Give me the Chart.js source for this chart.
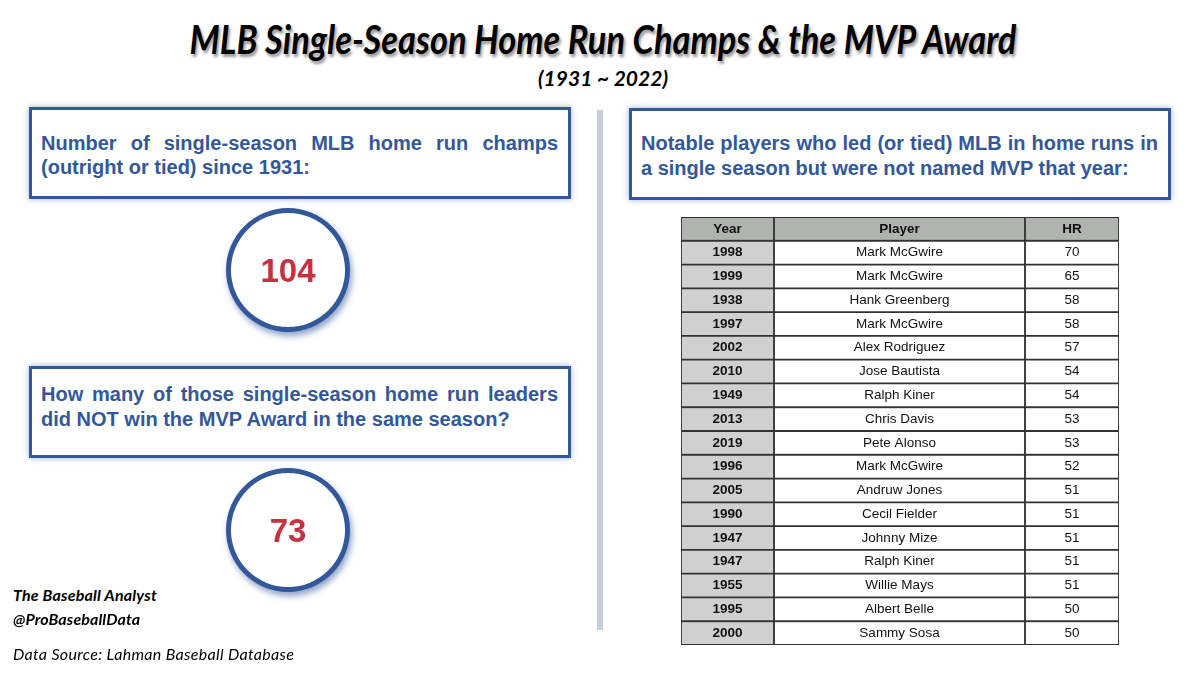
<!DOCTYPE html>
<html>
<head>
<meta charset="utf-8">
<script src="https://cdn.jsdelivr.net/npm/chart.js@4"></script>
<style>
 html, body {margin:0; padding:0; background:#fff;}
 body {position:relative; width:1200px; height:675px; overflow:hidden;}
 .abs   {position:absolute;}
 .hand  {position:absolute; font-family:"Lato"; font-style:italic; color:#000; white-space:nowrap;}
 .box   {position:absolute; box-sizing:border-box; border:3px solid #33589a; background:#fff;
         box-shadow:0 0 6px rgba(51,88,154,.45);}
 .line  {position:absolute; font:bold 20px "Liberation Sans"; color:#33589a; line-height:25px; white-space:nowrap;}
 .just  {white-space:normal; text-align:justify; text-align-last:justify;}
 canvas {position:absolute;}
 #ring1, #ring2 {filter:drop-shadow(2px 4px 3px rgba(51,88,154,.55));}
</style>
</head>
<body>

<div class="hand" id="title" style="left:0;width:1206px;text-align:center;top:15px;font-size:40px;font-weight:700;text-shadow:2px 3px 3px rgba(0,0,0,.4);transform:scaleX(.86)">MLB Single-Season Home Run Champs &amp; the MVP Award</div>
<div class="hand" style="left:0;width:1206px;text-align:center;top:65px;font-size:21px;font-weight:700;letter-spacing:0">(1931 ~ 2022)</div>

<div class="box" style="left:29px;top:107px;width:542px;height:92px"></div>
<div class="line just" style="left:41px;top:131px;width:517px">Number of single-season MLB home run champs</div>
<div class="line" style="left:41px;top:155px">(outright or tied) since 1931:</div>

<div class="box" style="left:29px;top:366px;width:542px;height:92px"></div>
<div class="line just" style="left:41px;top:382px;width:517px">How many of those single-season home run leaders</div>
<div class="line" style="left:41px;top:407px">did NOT win the MVP Award in the same season?</div>

<div class="abs" style="left:597px;top:110px;width:6px;height:520px;background:#c5ced9"></div>

<div class="box" style="left:629px;top:108px;width:542px;height:92px"></div>
<div class="line just" style="left:641px;top:131px;width:517px">Notable players who led (or tied) MLB in home runs in</div>
<div class="line" style="left:641px;top:156px">a single season but were not named MVP that year:</div>

<canvas id="ring1" style="left:218px;top:200px" width="140" height="140"></canvas>
<canvas id="ring2" style="left:218px;top:460px" width="140" height="140"></canvas>
<canvas id="table" style="left:679px;top:215px" width="442" height="432"></canvas>

<div class="hand" style="left:13px;top:585px;font-size:16px;font-weight:700;letter-spacing:.2px">The Baseball Analyst</div>
<div class="hand" style="left:13px;top:609px;font-size:16px;font-weight:700;letter-spacing:.1px">@ProBaseballData</div>
<div class="hand" style="left:13px;top:644px;font-size:16px;letter-spacing:.32px">Data Source: Lahman Baseball Database</div>

<script>
// DATA
var champs_total = 104;
var champs_nomvp = 73;

var columns = ["Year", "Player", "HR"];
var years   = [1998, 1999, 1938, 1997, 2002, 2010, 1949, 2013, 2019, 1996, 2005, 1990, 1947, 1947, 1955, 1995, 2000];
var players = ["Mark McGwire", "Mark McGwire", "Hank Greenberg", "Mark McGwire", "Alex Rodriguez", "Jose Bautista",
               "Ralph Kiner", "Chris Davis", "Pete Alonso", "Mark McGwire", "Andruw Jones", "Cecil Fielder",
               "Johnny Mize", "Ralph Kiner", "Willie Mays", "Albert Belle", "Sammy Sosa"];
var homers  = [70, 65, 58, 58, 57, 54, 54, 53, 53, 52, 51, 51, 51, 51, 51, 50, 50];

// LAYOUT
var column_widths = [93, 251, 94];
var color_header  = "#b1b3b1";
var color_year    = "#d0d0d0";
var color_line    = "#333333";

Chart.defaults.animation = false;


// RING WITH NUMBER
function Ring_Create(id, value)
{
 var center_text =
 {
  id: "centerText",
  beforeDatasetsDraw: function(chart)
  {
   // white disc inside the ring, so the drop shadow stays on the outside
   var arc     = chart.getDatasetMeta(0).data[0];
   var context = chart.ctx;
   context.save();
   context.fillStyle = "#ffffff";
   context.beginPath();
   context.arc(arc.x, arc.y, arc.innerRadius + 1, 0, Math.PI * 2);
   context.fill();
   context.restore();
  },
  afterDraw: function(chart)
  {
   var arc     = chart.getDatasetMeta(0).data[0];
   var context = chart.ctx;
   context.save();
   context.font         = "bold 33px 'Liberation Sans'";
   context.fillStyle    = "#c9303f";
   context.textAlign    = "center";
   context.textBaseline = "middle";
   context.fillText(String(value), arc.x, arc.y + 3);
   context.restore();
  }
 };

 return new Chart(document.getElementById(id).getContext("2d"),
 {
  type:    "doughnut",
  data:    {labels:[String(value)], datasets:[{data:[value], backgroundColor:"#33589a", borderWidth:0}]},
  options:
  {
   responsive: false,
   cutout:     "92%",
   layout:     {padding:8},
   events:     [],
   plugins:    {legend:{display:false}, tooltip:{enabled:false}}
  },
  plugins: [center_text]
 });
}

Ring_Create("ring1", champs_total);
Ring_Create("ring2", champs_nomvp);


// TABLE
var labels = ["header"].concat(years.map(function(year, i){ return i; }));

var datasets = [];
for(var c = 0; c < columns.length; c++)
{
 var fills = labels.map(function(label, row)
 {
  if(row == 0) return color_header;
  return c == 0 ? color_year : "#ffffff";
 });

 datasets.push(
 {
  label:           columns[c],
  data:            labels.map(function(){ return column_widths[c]; }),
  backgroundColor: fills,
  borderColor:     color_line,
  borderWidth:     1.25,
  borderSkipped:   false,
  barPercentage:   1,
  categoryPercentage: 1
 });
}

var cell_text =
{
 id: "cellText",
 afterDatasetsDraw: function(chart)
 {
  var context = chart.ctx;
  var x       = chart.scales.x;
  var y       = chart.scales.y;
  var mids    = [];
  var start   = 0;
  for(var width of column_widths)
  {
   mids.push(x.getPixelForValue(start + width / 2));
   start += width;
  }

  context.save();
  context.fillStyle    = "#111111";
  context.textAlign    = "center";
  context.textBaseline = "middle";

  context.font = "bold 13.5px 'Liberation Sans'";
  for(var c = 0; c < columns.length; c++) context.fillText(columns[c], mids[c], y.getPixelForValue(0));

  for(var i = 0; i < years.length; i++)
  {
   var row = y.getPixelForValue(i + 1);
   context.font = "bold 13.5px 'Liberation Sans'";
   context.fillText(String(years[i]), mids[0], row);
   context.font = "13.5px 'Liberation Sans'";
   context.fillText(players[i], mids[1], row);
   context.fillText(String(homers[i]), mids[2], row);
  }
  context.restore();
 }
};

new Chart(document.getElementById("table").getContext("2d"),
{
 type:    "bar",
 data:    {labels, datasets},
 options:
 {
  indexAxis:  "y",
  responsive: false,
  events:     [],
  layout:     {padding:2},
  scales:
  {
   x: {display:false, stacked:true, min:0, max:438},
   y: {display:false, stacked:true}
  },
  plugins: {legend:{display:false}, tooltip:{enabled:false}}
 },
 plugins: [cell_text]
});
</script>
</body>
</html>
